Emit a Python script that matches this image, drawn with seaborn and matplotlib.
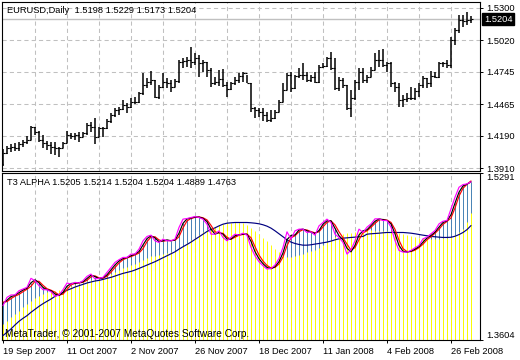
"""EURUSD daily bars with the T3 ALPHA indicator, drawn MetaTrader style"""

import matplotlib
matplotlib.use("Agg")
import pandas as pd
import seaborn as sns
from matplotlib import pyplot as plt
from matplotlib import transforms

# Price bars, 19 Sep 2007 .. early Mar 2008
opens = [
    1.3950, 1.4045, 1.4083, 1.4092, 1.4083, 1.4121, 1.4141, 1.4155, 1.4265, 1.4227,
    1.4155, 1.4126, 1.4112, 1.4097, 1.4083, 1.4083, 1.4132, 1.4199, 1.4190, 1.4199,
    1.4184, 1.4213, 1.4285, 1.4271, 1.4184, 1.4256, 1.4256, 1.4323, 1.4372, 1.4415,
    1.4421, 1.4459, 1.4444, 1.4488, 1.4488, 1.4560, 1.4632, 1.4661, 1.4675, 1.4531,
    1.4612, 1.4661, 1.4652, 1.4612, 1.4670, 1.4834, 1.4843, 1.4849, 1.4834, 1.4863,
    1.4820, 1.4834, 1.4762, 1.4647, 1.4661, 1.4681, 1.4632, 1.4594, 1.4647, 1.4675,
    1.4710, 1.4733, 1.4650, 1.4430, 1.4415, 1.4401, 1.4372, 1.4329, 1.4343, 1.4401,
    1.4488, 1.4589, 1.4719, 1.4603, 1.4710, 1.4719, 1.4719, 1.4675, 1.4704, 1.4661,
    1.4791, 1.4797, 1.4863, 1.4777, 1.4603, 1.4675, 1.4632, 1.4430, 1.4516, 1.4661,
    1.4748, 1.4675, 1.4704, 1.4762, 1.4849, 1.4849, 1.4805, 1.4820, 1.4647, 1.4612,
    1.4502, 1.4508, 1.4516, 1.4516, 1.4583, 1.4632, 1.4690, 1.4647, 1.4710, 1.4704,
    1.4820, 1.4826, 1.4805, 1.5022, 1.5109, 1.5196, 1.5190, 1.5198,
]
highs = [
    1.4074, 1.4103, 1.4121, 1.4126, 1.4141, 1.4155, 1.4190, 1.4277, 1.4271, 1.4233,
    1.4199, 1.4149, 1.4141, 1.4141, 1.4097, 1.4141, 1.4233, 1.4213, 1.4219, 1.4227,
    1.4227, 1.4305, 1.4314, 1.4343, 1.4271, 1.4265, 1.4334, 1.4392, 1.4430, 1.4438,
    1.4502, 1.4473, 1.4516, 1.4531, 1.4574, 1.4733, 1.4690, 1.4753, 1.4675, 1.4632,
    1.4739, 1.4690, 1.4675, 1.4681, 1.4849, 1.4863, 1.4878, 1.4964, 1.4907, 1.4892,
    1.4849, 1.4834, 1.4777, 1.4704, 1.4762, 1.4771, 1.4661, 1.4661, 1.4704, 1.4739,
    1.4748, 1.4719, 1.4650, 1.4444, 1.4430, 1.4430, 1.4401, 1.4415, 1.4415, 1.4502,
    1.4647, 1.4733, 1.4748, 1.4719, 1.4777, 1.4826, 1.4748, 1.4719, 1.4748, 1.4805,
    1.4820, 1.4878, 1.4921, 1.4863, 1.4704, 1.4690, 1.4632, 1.4589, 1.4675, 1.4777,
    1.4777, 1.4719, 1.4791, 1.4907, 1.4935, 1.4941, 1.4834, 1.4834, 1.4661, 1.4647,
    1.4545, 1.4560, 1.4618, 1.4603, 1.4647, 1.4710, 1.4695, 1.4756, 1.4748, 1.4834,
    1.4834, 1.4849, 1.5051, 1.5123, 1.5239, 1.5239, 1.5268, 1.5229,
]
lows = [
    1.3933, 1.4034, 1.4054, 1.4063, 1.4063, 1.4097, 1.4121, 1.4155, 1.4199, 1.4141,
    1.4083, 1.4068, 1.4034, 1.4025, 1.4011, 1.4083, 1.4130, 1.4161, 1.4155, 1.4141,
    1.4180, 1.4199, 1.4227, 1.4121, 1.4184, 1.4184, 1.4248, 1.4305, 1.4357, 1.4372,
    1.4415, 1.4392, 1.4430, 1.4467, 1.4473, 1.4545, 1.4603, 1.4632, 1.4516, 1.4508,
    1.4603, 1.4603, 1.4574, 1.4612, 1.4647, 1.4777, 1.4791, 1.4777, 1.4805, 1.4704,
    1.4748, 1.4704, 1.4618, 1.4632, 1.4623, 1.4618, 1.4525, 1.4589, 1.4632, 1.4647,
    1.4661, 1.4647, 1.4401, 1.4343, 1.4357, 1.4323, 1.4314, 1.4314, 1.4340, 1.4401,
    1.4488, 1.4589, 1.4574, 1.4600, 1.4690, 1.4675, 1.4661, 1.4661, 1.4647, 1.4647,
    1.4777, 1.4791, 1.4762, 1.4589, 1.4583, 1.4603, 1.4415, 1.4357, 1.4502, 1.4589,
    1.4647, 1.4647, 1.4700, 1.4760, 1.4791, 1.4791, 1.4748, 1.4618, 1.4574, 1.4444,
    1.4444, 1.4488, 1.4502, 1.4502, 1.4531, 1.4603, 1.4603, 1.4612, 1.4690, 1.4696,
    1.4791, 1.4777, 1.4777, 1.4979, 1.5080, 1.5138, 1.5152, 1.5173,
]
closes = [
    1.4045, 1.4083, 1.4092, 1.4083, 1.4121, 1.4141, 1.4155, 1.4265, 1.4227, 1.4155,
    1.4126, 1.4112, 1.4097, 1.4083, 1.4083, 1.4132, 1.4199, 1.4190, 1.4199, 1.4184,
    1.4213, 1.4285, 1.4271, 1.4184, 1.4256, 1.4256, 1.4323, 1.4372, 1.4415, 1.4421,
    1.4459, 1.4444, 1.4488, 1.4488, 1.4560, 1.4632, 1.4661, 1.4675, 1.4531, 1.4612,
    1.4661, 1.4652, 1.4612, 1.4670, 1.4834, 1.4843, 1.4849, 1.4834, 1.4863, 1.4820,
    1.4834, 1.4762, 1.4647, 1.4661, 1.4681, 1.4632, 1.4594, 1.4647, 1.4675, 1.4710,
    1.4733, 1.4650, 1.4430, 1.4415, 1.4401, 1.4372, 1.4329, 1.4343, 1.4401, 1.4488,
    1.4589, 1.4719, 1.4603, 1.4710, 1.4719, 1.4719, 1.4675, 1.4704, 1.4661, 1.4791,
    1.4797, 1.4863, 1.4777, 1.4603, 1.4675, 1.4632, 1.4430, 1.4516, 1.4661, 1.4748,
    1.4675, 1.4704, 1.4762, 1.4849, 1.4849, 1.4805, 1.4820, 1.4647, 1.4612, 1.4502,
    1.4508, 1.4516, 1.4516, 1.4583, 1.4632, 1.4690, 1.4647, 1.4710, 1.4704, 1.4820,
    1.4826, 1.4805, 1.5022, 1.5109, 1.5196, 1.5190, 1.5198, 1.5204,
]

# T3 ALPHA buffers
t3_fast = [  # magenta
    1.3954, 1.4038, 1.4062, 1.4062, 1.4105, 1.4122, 1.4139, 1.4230, 1.4206, 1.4156,
    1.4115, 1.4115, 1.4095, 1.4048, 1.4062, 1.4115, 1.4183, 1.4172, 1.4189, 1.4183,
    1.4206, 1.4250, 1.4273, 1.4223, 1.4230, 1.4240, 1.4290, 1.4340, 1.4391, 1.4418,
    1.4441, 1.4441, 1.4475, 1.4475, 1.4525, 1.4609, 1.4653, 1.4666, 1.4609, 1.4592,
    1.4626, 1.4609, 1.4609, 1.4626, 1.4744, 1.4828, 1.4834, 1.4844, 1.4854, 1.4844,
    1.4828, 1.4777, 1.4676, 1.4676, 1.4710, 1.4643, 1.4609, 1.4643, 1.4676, 1.4666,
    1.4686, 1.4666, 1.4542, 1.4458, 1.4398, 1.4357, 1.4324, 1.4330, 1.4364, 1.4431,
    1.4542, 1.4700, 1.4626, 1.4710, 1.4727, 1.4727, 1.4693, 1.4700, 1.4666, 1.4760,
    1.4794, 1.4828, 1.4794, 1.4676, 1.4643, 1.4592, 1.4475, 1.4518, 1.4609, 1.4727,
    1.4693, 1.4747, 1.4780, 1.4831, 1.4831, 1.4814, 1.4814, 1.4747, 1.4612, 1.4512,
    1.4495, 1.4495, 1.4512, 1.4538, 1.4562, 1.4629, 1.4646, 1.4680, 1.4713, 1.4780,
    1.4807, 1.4814, 1.4932, 1.5049, 1.5150, 1.5177, 1.5184, 1.5205,
]
t3_mid = [  # black, also the top of the steel-blue histogram
    1.3975, 1.4010, 1.4045, 1.4060, 1.4085, 1.4112, 1.4130, 1.4185, 1.4215, 1.4185,
    1.4138, 1.4115, 1.4105, 1.4072, 1.4055, 1.4088, 1.4150, 1.4178, 1.4180, 1.4186,
    1.4195, 1.4228, 1.4262, 1.4248, 1.4227, 1.4235, 1.4265, 1.4315, 1.4365, 1.4405,
    1.4430, 1.4441, 1.4458, 1.4475, 1.4500, 1.4567, 1.4631, 1.4660, 1.4638, 1.4600,
    1.4609, 1.4618, 1.4609, 1.4618, 1.4685, 1.4786, 1.4831, 1.4839, 1.4849, 1.4849,
    1.4836, 1.4803, 1.4727, 1.4676, 1.4693, 1.4677, 1.4626, 1.4626, 1.4660, 1.4671,
    1.4676, 1.4676, 1.4604, 1.4500, 1.4428, 1.4378, 1.4340, 1.4327, 1.4347, 1.4398,
    1.4487, 1.4621, 1.4663, 1.4668, 1.4719, 1.4727, 1.4710, 1.4697, 1.4683, 1.4713,
    1.4777, 1.4811, 1.4811, 1.4735, 1.4660, 1.4618, 1.4534, 1.4497, 1.4564, 1.4668,
    1.4710, 1.4720, 1.4763, 1.4806, 1.4831, 1.4823, 1.4814, 1.4780, 1.4680, 1.4562,
    1.4504, 1.4495, 1.4504, 1.4525, 1.4550, 1.4596, 1.4638, 1.4663, 1.4697, 1.4747,
    1.4794, 1.4811, 1.4873, 1.4990, 1.5100, 1.5164, 1.5181, 1.5204,
]
t3_slow = [  # red
    1.3990, 1.3995, 1.4025, 1.4050, 1.4068, 1.4095, 1.4120, 1.4150, 1.4200, 1.4200,
    1.4160, 1.4125, 1.4110, 1.4090, 1.4062, 1.4070, 1.4118, 1.4165, 1.4178, 1.4183,
    1.4190, 1.4210, 1.4245, 1.4255, 1.4235, 1.4232, 1.4250, 1.4292, 1.4340, 1.4385,
    1.4418, 1.4436, 1.4450, 1.4466, 1.4485, 1.4530, 1.4600, 1.4648, 1.4650, 1.4618,
    1.4605, 1.4612, 1.4612, 1.4614, 1.4650, 1.4740, 1.4810, 1.4835, 1.4845, 1.4850,
    1.4842, 1.4820, 1.4765, 1.4700, 1.4688, 1.4685, 1.4645, 1.4625, 1.4645, 1.4665,
    1.4673, 1.4677, 1.4640, 1.4550, 1.4465, 1.4405, 1.4360, 1.4335, 1.4340, 1.4375,
    1.4445, 1.4560, 1.4640, 1.4660, 1.4700, 1.4722, 1.4718, 1.4702, 1.4690, 1.4700,
    1.4750, 1.4795, 1.4810, 1.4770, 1.4700, 1.4640, 1.4575, 1.4515, 1.4540, 1.4620,
    1.4690, 1.4710, 1.4745, 1.4785, 1.4820, 1.4825, 1.4818, 1.4795, 1.4725, 1.4615,
    1.4530, 1.4500, 1.4500, 1.4515, 1.4540, 1.4575, 1.4620, 1.4650, 1.4685, 1.4725,
    1.4775, 1.4805, 1.4840, 1.4940, 1.5060, 1.5140, 1.5180, 1.5214,
]
hist_level = [  # yellow histogram
    1.3769, 1.3803, 1.3836, 1.3870, 1.3904, 1.3937, 1.3971, 1.4004, 1.4028, 1.4055,
    1.4075, 1.4088, 1.4098, 1.4105, 1.4112, 1.4125, 1.4142, 1.4156, 1.4166, 1.4172,
    1.4183, 1.4199, 1.4213, 1.4216, 1.4223, 1.4230, 1.4246, 1.4270, 1.4293, 1.4313,
    1.4334, 1.4347, 1.4361, 1.4374, 1.4391, 1.4414, 1.4434, 1.4451, 1.4458, 1.4461,
    1.4471, 1.4482, 1.4492, 1.4505, 1.4532, 1.4559, 1.4586, 1.4613, 1.4639, 1.4666,
    1.4693, 1.4717, 1.4734, 1.4750, 1.4767, 1.4777, 1.4784, 1.4791, 1.4794, 1.4794,
    1.4787, 1.4767, 1.4740, 1.4710, 1.4676, 1.4639, 1.4603, 1.4566, 1.4525, 1.4492,
    1.4465, 1.4445, 1.4441, 1.4451, 1.4465, 1.4478, 1.4492, 1.4505, 1.4518, 1.4539,
    1.4566, 1.4592, 1.4619, 1.4643, 1.4660, 1.4673, 1.4683, 1.4690, 1.4697, 1.4703,
    1.4707, 1.4720, 1.4717, 1.4713, 1.4713, 1.4713, 1.4710, 1.4706, 1.4700, 1.4690,
    1.4680, 1.4670, 1.4659, 1.4649, 1.4639, 1.4633, 1.4629, 1.4626, 1.4626, 1.4629,
    1.4633, 1.4636, 1.4646, 1.4663, 1.4693, 1.4733, 1.4797, 1.4889,
]
ma_line = [  # navy
    1.3652, 1.3685, 1.3719, 1.3759, 1.3796, 1.3826, 1.3853, 1.3887, 1.3917, 1.3947,
    1.3974, 1.3998, 1.4021, 1.4048, 1.4068, 1.4088, 1.4109, 1.4125, 1.4142, 1.4156,
    1.4169, 1.4183, 1.4193, 1.4203, 1.4209, 1.4219, 1.4230, 1.4240, 1.4253, 1.4267,
    1.4280, 1.4290, 1.4300, 1.4314, 1.4330, 1.4347, 1.4364, 1.4381, 1.4398, 1.4418,
    1.4438, 1.4458, 1.4478, 1.4498, 1.4525, 1.4549, 1.4572, 1.4596, 1.4623, 1.4649,
    1.4676, 1.4703, 1.4723, 1.4740, 1.4760, 1.4777, 1.4787, 1.4791, 1.4794, 1.4794,
    1.4794, 1.4794, 1.4791, 1.4787, 1.4781, 1.4771, 1.4757, 1.4737, 1.4710, 1.4680,
    1.4650, 1.4619, 1.4596, 1.4582, 1.4572, 1.4565, 1.4565, 1.4569, 1.4576, 1.4582,
    1.4589, 1.4596, 1.4606, 1.4619, 1.4629, 1.4636, 1.4639, 1.4643, 1.4646, 1.4650,
    1.4653, 1.4676, 1.4680, 1.4683, 1.4686, 1.4690, 1.4693, 1.4693, 1.4693, 1.4693,
    1.4693, 1.4690, 1.4686, 1.4680, 1.4673, 1.4666, 1.4660, 1.4653, 1.4650, 1.4646,
    1.4643, 1.4643, 1.4645, 1.4655, 1.4672, 1.4693, 1.4722, 1.4763,
]

date_labels = ["19 Sep 2007", "11 Oct 2007", "2 Nov 2007", "26 Nov 2007",
               "18 Dec 2007", "11 Jan 2008", "4 Feb 2008", "26 Feb 2008"]
bars_per_label = 16
bars_per_grid = 8
price_ticks = [1.5300, 1.5020, 1.4745, 1.4465, 1.4190, 1.3910]
indicator_ticks = [1.3604, 1.5291]
bid_price = 1.5204
price_title = "EURUSD,Daily  1.5198 1.5229 1.5173 1.5204"
indicator_title = "T3 ALPHA 1.5205 1.5214 1.5204 1.5204 1.4889 1.4763"
watermark = "MetaTrader, \u00a9 2001-2007 MetaQuotes Software Corp."

FONT = 6.7
GRID = dict(color="#c0c0c0", lw=0.75, ls=(0, (4, 3)), zorder=0)


def style_panel(ax):
    for spine in ax.spines.values():
        spine.set_visible(True)
        spine.set_color("black")
        spine.set_linewidth(0.8)
    ax.set_xlabel(None)
    ax.set_ylabel(None)
    ax.yaxis.tick_right()
    ax.tick_params(axis="y", direction="out", length=2.2, width=0.7,
                   labelsize=FONT, pad=2, colors="black")


def plot_chart(path="out.png"):
    sns.set_theme(style="white")
    plt.rcParams["font.family"] = ["Liberation Sans", "DejaVu Sans"]

    bars = pd.DataFrame({"open": opens, "high": highs, "low": lows, "close": closes})
    bars["x"] = range(len(bars))
    ind = pd.DataFrame({"fast": t3_fast, "mid": t3_mid, "slow": t3_slow,
                        "level": hist_level, "ma": ma_line})
    ind["x"] = range(len(ind))
    n = len(bars)

    fig = plt.figure(figsize=(5.2, 3.6), dpi=100)
    ax1 = fig.add_axes([1.5 / 520, 1 - 170.5 / 360, 479 / 520, 168.8 / 360])
    ax2 = fig.add_axes([1.5 / 520, 1 - 340.3 / 360, 479 / 520, 167.0 / 360])

    # Upper panel: OHLC bars
    for xg in range(bars_per_grid, n, bars_per_grid):
        ax1.axvline(xg, **GRID)
        ax2.axvline(xg, **GRID)
    for p in price_ticks:
        ax1.axhline(p, **GRID)
    ax1.axhline(bid_price, color="#c0c0c0", lw=1.0, zorder=1)

    ax1.vlines(bars["x"], bars["low"], bars["high"], color="black", lw=1.1, zorder=3)
    ax1.hlines(bars["open"], bars["x"] - 0.45, bars["x"], color="black", lw=0.8, zorder=3)
    ax1.hlines(bars["close"], bars["x"], bars["x"] + 0.45, color="black", lw=0.8, zorder=3)

    ax1.set_xlim(-0.375, n + 1.375)
    ax1.set_ylim(1.38908, 1.53543)
    style_panel(ax1)
    ax1.set_yticks(price_ticks)
    ax1.set_yticklabels([f"{p:.4f}" for p in price_ticks])
    ax1.tick_params(axis="x", bottom=False, labelbottom=False)
    ax1.text(0.0115, 0.947, price_title, transform=ax1.transAxes,
             fontsize=FONT, va="center", ha="left", color="black")
    trans = transforms.blended_transform_factory(ax1.transAxes, ax1.transData)
    ax1.text(1.0075, bid_price, f"{bid_price:.4f}", transform=trans, color="white",
             fontsize=FONT, va="center", ha="left", clip_on=False,
             bbox=dict(boxstyle="square,pad=0.2", fc="black", ec="black"))

    # Lower panel: T3 ALPHA, two 1-px histograms under the lines
    bottom = indicator_ticks[0]
    ax2.vlines(ind["x"], bottom, ind["mid"], colors="#4682b4", linewidths=0.7,
               snap=True, zorder=1)
    ax2.vlines(ind["x"], bottom, ind["level"], colors="#ffff00", linewidths=0.7,
               snap=True, zorder=1)
    for col, color in [("ma", "#000080"), ("slow", "#ff0000"),
                       ("mid", "black"), ("fast", "#ff00ff")]:
        sns.lineplot(data=ind, x="x", y=col, color=color, lw=0.85, ax=ax2, zorder=4)

    ax2.set_xlim(-0.375, n + 1.375)
    ax2.set_ylim(indicator_ticks[0], indicator_ticks[1])
    style_panel(ax2)
    ax2.set_yticks(indicator_ticks)
    ax2.set_yticklabels([f"{p:.4f}" for p in indicator_ticks])
    labels = ax2.get_yticklabels()
    labels[0].set_verticalalignment("bottom")
    labels[1].set_verticalalignment("top")

    ax2.set_xticks(range(0, bars_per_label * len(date_labels), bars_per_label))
    ax2.set_xticklabels(date_labels, ha="left")
    ax2.tick_params(axis="x", bottom=True, direction="out", length=2.5, width=0.7,
                    labelsize=FONT, pad=2, colors="black")

    ax2.text(0.0115, 0.942, indicator_title, transform=ax2.transAxes,
             fontsize=FONT, va="center", ha="left", color="black", zorder=6)
    ax2.text(0.008, 0.04, watermark, transform=ax2.transAxes,
             fontsize=7.3, va="center", ha="left", color="black", zorder=6)

    fig.savefig(path, dpi=100, facecolor="white")
    plt.close(fig)


if __name__ == "__main__":
    plot_chart()
